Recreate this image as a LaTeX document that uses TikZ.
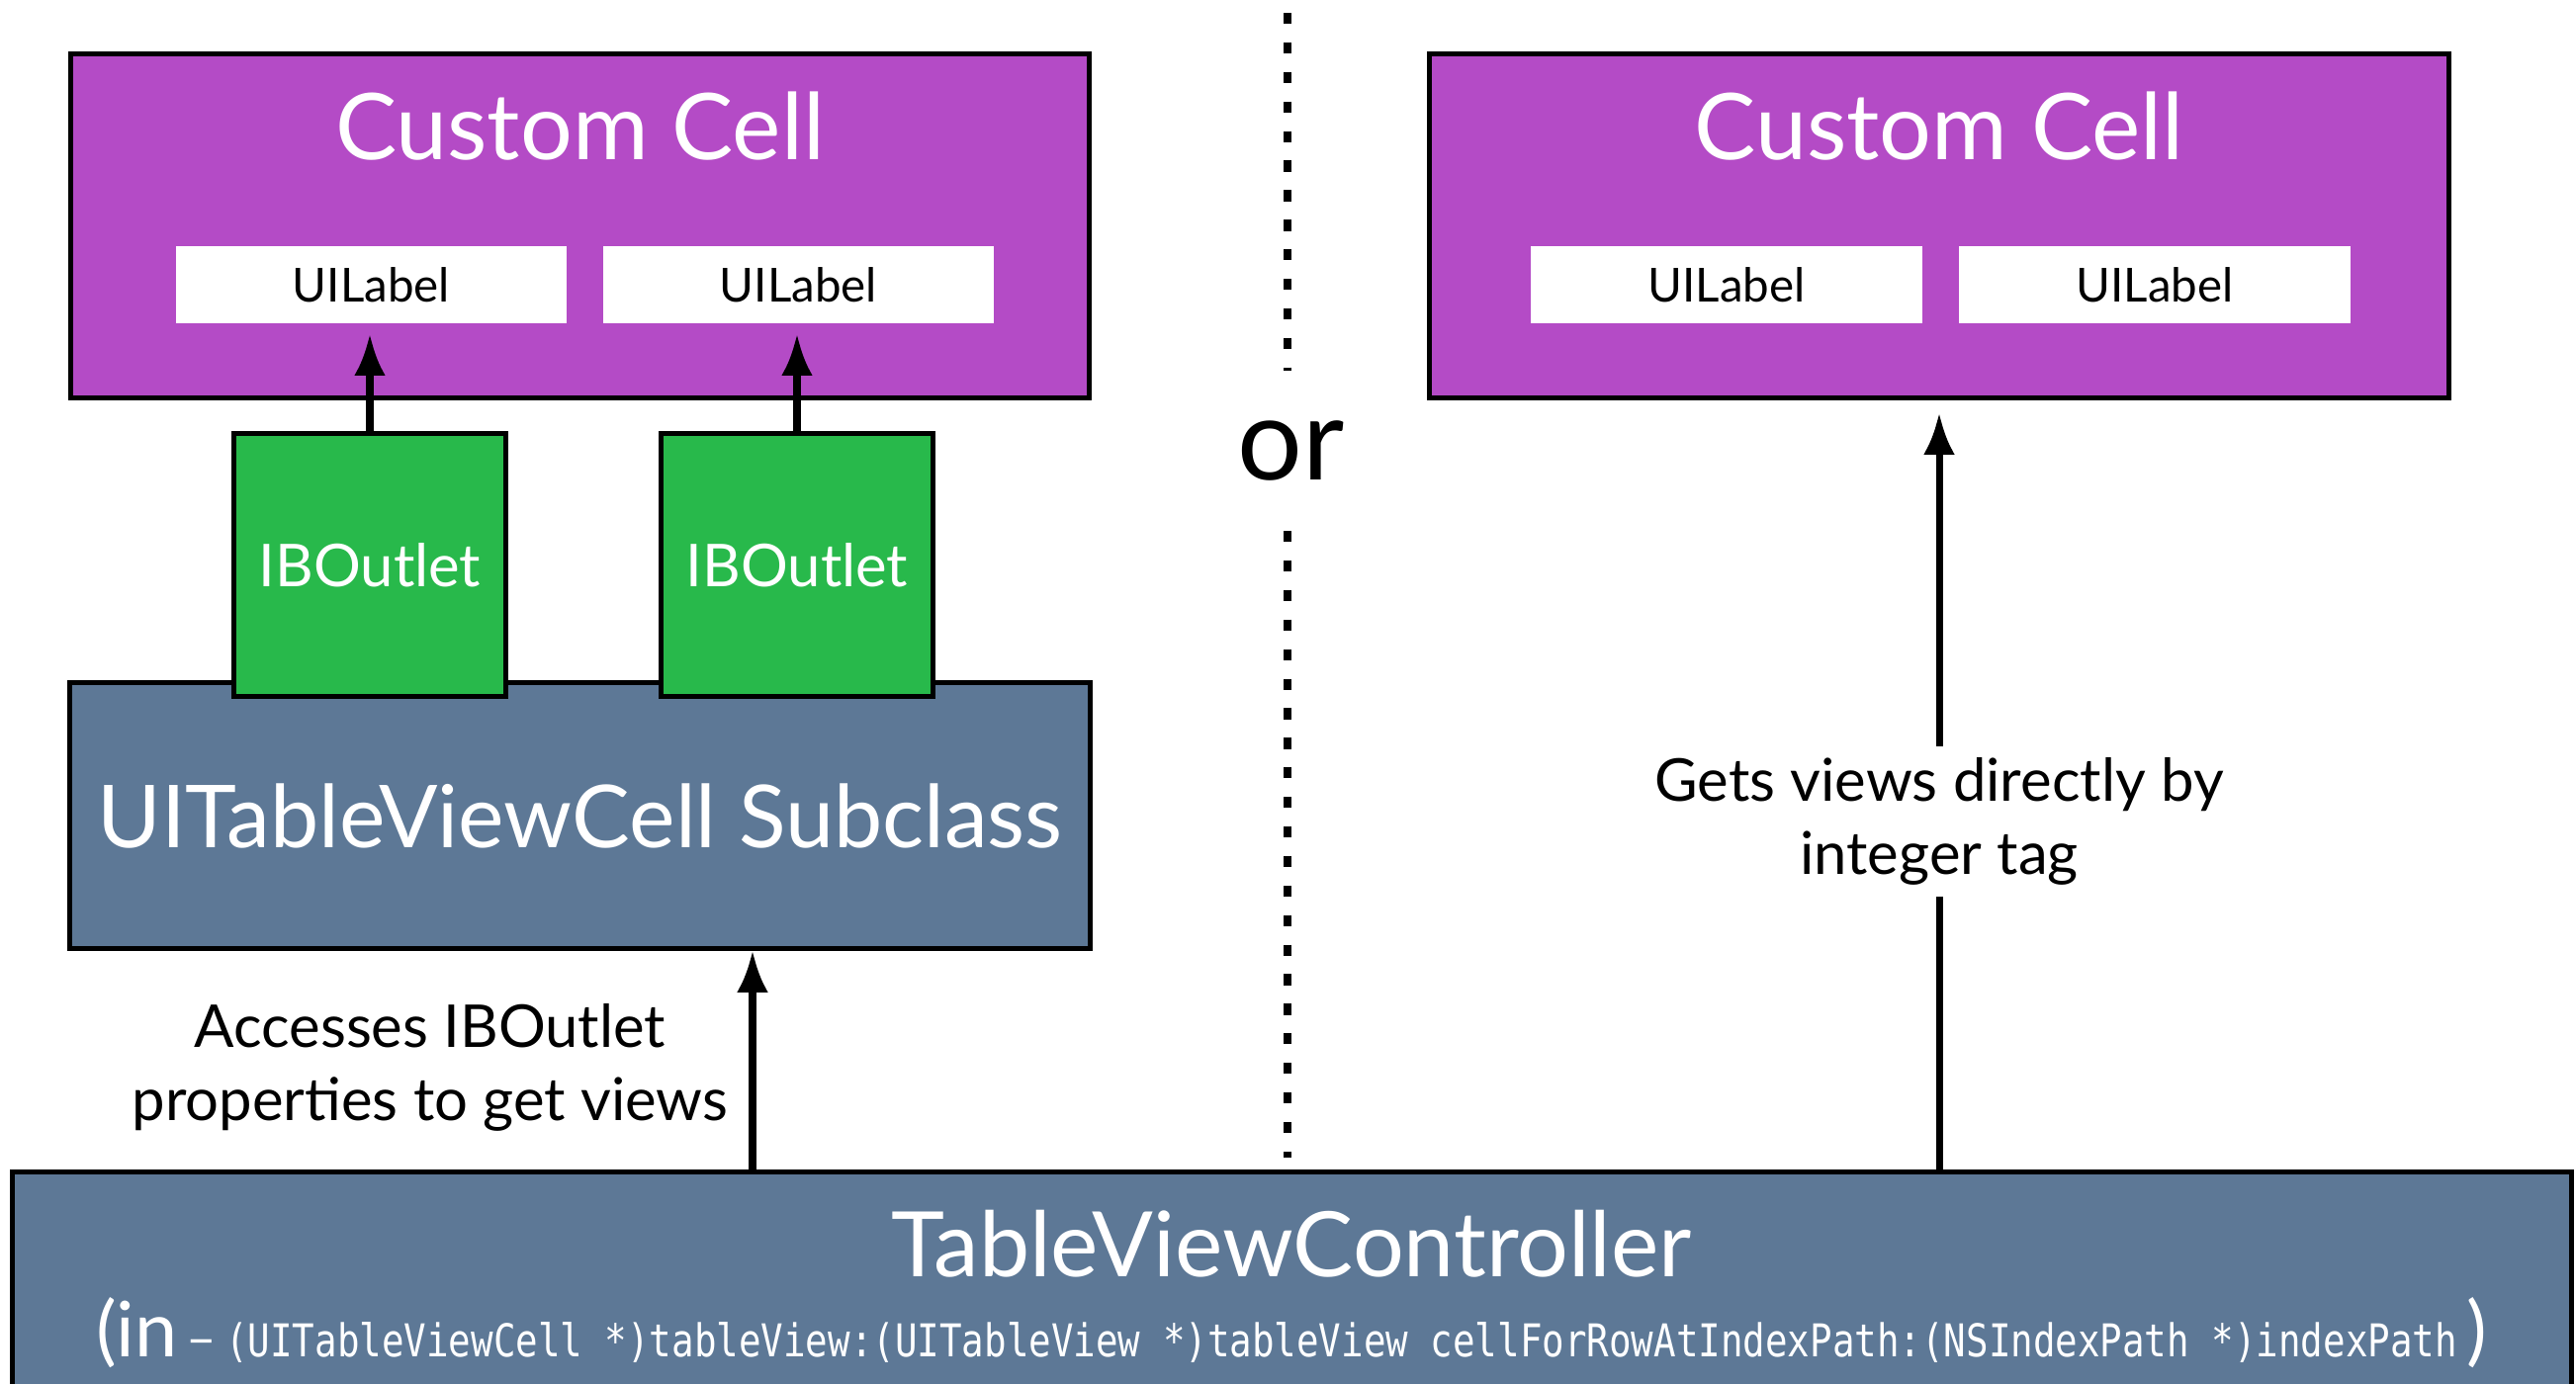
\documentclass[tikz,border=0pt]{standalone}
\usepackage{fontspec}
\setmainfont{Lato}
\newfontfamily\codefont[FakeStretch=0.82]{DejaVu Sans Mono}
\usetikzlibrary{arrows.meta}
\definecolor{cellpurple}{HTML}{B44BC6}
\definecolor{outletgreen}{HTML}{28B94B}
\definecolor{classblue}{HTML}{5D7896}
\tikzstyle{cellbox}=[rectangle, fill=cellpurple, draw=black, line width=1.4pt, minimum width=10.3cm, minimum height=3.47cm]
\tikzstyle{labelbox}=[rectangle, fill=white, minimum width=3.95cm, minimum height=0.78cm, font=\fontsize{13.5}{13.5}\selectfont]
\tikzstyle{outletbox}=[rectangle, fill=outletgreen, draw=black, line width=1.4pt, minimum width=2.74cm, minimum height=2.65cm, text=white, font=\fontsize{17}{17}\selectfont]
\tikzstyle{classbox}=[rectangle, fill=classblue, draw=black, line width=1.4pt, text=white]
\tikzstyle{title}=[text=white, font=\fontsize{26.5}{26.5}\selectfont]
\tikzstyle{note}=[align=center, font=\fontsize{17}{21}\selectfont]
\tikzstyle{arrow}=[line width=2pt, -{Latex[length=12pt,width=9pt]}]

\begin{document}
\begin{tikzpicture}[x=0.01cm, y=-0.01cm]
                    \useasboundingbox (0,0) rectangle (2605,1399);
                    % left: outlets
                    \node[cellbox] (cellL) at (586.5,228.5) {};
                    \node[title] (cellLtitle) at (586.5,128) {Custom Cell};
                    \node[labelbox] (labelL1) at (375.5,288) {UILabel};
                    \node[labelbox] (labelL2) at (807.5,288) {UILabel};
                    \node[classbox, minimum width=10.31cm, minimum height=2.68cm, font=\fontsize{25}{25}\selectfont] (subclass) at (586.5,825) {UITableViewCell Subclass};
                    \node[outletbox] (outlet1) at (374,571.5) {IBOutlet};
                    \node[outletbox] (outlet2) at (806,571.5) {IBOutlet};
                    \draw[arrow, shorten >=0.1cm] (outlet1.north) -- (outlet1.north |- labelL1.south);
                    \draw[arrow, shorten >=0.1cm] (outlet2.north) -- (outlet2.north |- labelL2.south);
                    % right: tags
                    \node[cellbox] (cellR) at (1961,228.5) {};
                    \node[title] (cellRtitle) at (1961,128) {Custom Cell};
                    \node[labelbox] (labelR1) at (1746,288) {UILabel};
                    \node[labelbox] (labelR2) at (2179,288) {UILabel};
                    % separator
                    \node[font=\fontsize{33}{33}\selectfont, inner ysep=0.5cm] (or) at (1306,456) {or};
                    \coordinate (sepTop) at (1302,13);
                    \coordinate (sepBottom) at (1302,1171);
                    \draw[line width=2.3pt, dash pattern=on 3.2pt off 5.3pt] (sepTop) -- (sepTop |- or.north);
                    \draw[line width=2.3pt, dash pattern=on 3.2pt off 5.3pt] (sepBottom |- or.south) -- (sepBottom);
                    % controller
                    \node[classbox, minimum width=25.87cm, minimum height=2.34cm] (tvc) at (1306.5,1303) {};
                    \node[title, font=\fontsize{26}{26}\selectfont] (tvctitle) at (1306,1258) {TableViewController};
                    \node[text=white] (tvcsig) at (1306,1348) {{\fontsize{22}{22}\selectfont(in} {\fontsize{15}{15}\selectfont--} {\codefont\fontsize{13}{13}\selectfont (UITableViewCell *)tableView:(UITableView *)tableView cellForRowAtIndexPath:(NSIndexPath *)indexPath} {\fontsize{22}{22}\selectfont)}};
                    \coordinate (accessX) at (761,0);
                    \draw[arrow] (tvc.north -| accessX) -- (subclass.south -| accessX);
                    \node[note] (accessText) at (435,1080) {Accesses IBOutlet\\properties to get views};
                    \draw[arrow, shorten >=0.13cm] (tvc.north -| cellR) -- node[note, fill=white, pos=0.453] (getsText) {Gets views directly by\\integer tag} (cellR.south);
                    \end{tikzpicture}
\end{document}
